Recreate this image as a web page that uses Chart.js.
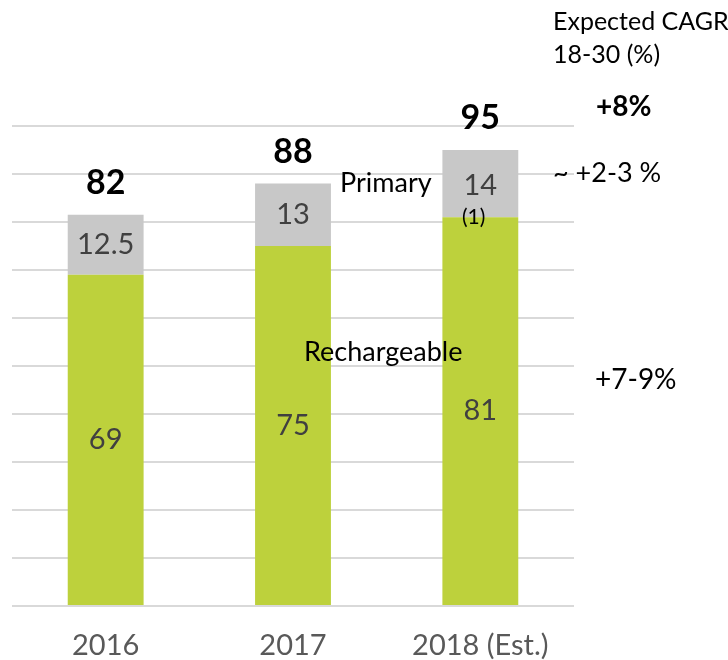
<!DOCTYPE html>
<html><head><meta charset="utf-8">
<script src="https://cdn.jsdelivr.net/npm/chart.js@4"></script>
<style>html,body{margin:0;padding:0;background:#fff}#wrap{width:728px;height:660px;position:relative}</style>
</head><body><div id="wrap"><canvas id="c" width="728" height="660"></canvas></div>
<script>
const categories = ["2016", "2017", "2018 (Est.)"];
const rechargeable = [69, 75, 81];
const primary = [12.5, 13, 14];
const totals = [82, 88, 95];
const FONT = "Lato, 'Open Sans', sans-serif";

const labelPlugin = {
  id: 'labels',
  afterDatasetsDraw(chart) {
    const ctx = chart.ctx;
    const y = chart.scales.y;
    ctx.save();
    ctx.textAlign = 'center';
    ctx.textBaseline = 'middle';
    const m0 = chart.getDatasetMeta(0), m1 = chart.getDatasetMeta(1);
    categories.forEach((c, i) => {
      const b0 = m0.data[i], b1 = m1.data[i];
      ctx.fillStyle = '#404040';
      ctx.font = '29px ' + FONT;
      ctx.fillText(String(rechargeable[i]), b0.x, (b0.y + b0.base) / 2);
      ctx.fillText(String(primary[i]), b1.x, (b1.y + b1.base) / 2 + (i === 2 ? 2 : 0));
      ctx.fillStyle = '#000';
      ctx.font = 'bold 34px ' + FONT;
      ctx.fillText(String(totals[i]), b1.x, y.getPixelForValue(rechargeable[i] + primary[i]) - 32);
    });
    ctx.fillStyle = '#000';
    ctx.textAlign = 'left';
    ctx.font = '25px ' + FONT;
    ctx.fillText('Expected CAGR', 553, 22);
    ctx.fillText('18-30 (%)', 553, 55);
    ctx.font = '27px ' + FONT;
    ctx.fillText('Primary', 340, 183);
    ctx.fillText('Rechargeable', 304, 352);
    ctx.fillText('~ +2-3 %', 553, 173);
    ctx.font = '28px ' + FONT;
    ctx.fillText('+7-9%', 595, 380);
    ctx.font = 'bold 28px ' + FONT;
    ctx.fillText('+8%', 596, 107);
    ctx.font = '21px ' + FONT;
    ctx.fillText('(1)', 462, 217);
    ctx.restore();
  }
};

new Chart(document.getElementById('c'), {
  type: 'bar',
  data: {
    labels: categories,
    datasets: [
      { label: 'Rechargeable', data: rechargeable, backgroundColor: '#BDD13C', barPercentage: 0.405, categoryPercentage: 1 },
      { label: 'Primary', data: primary, backgroundColor: '#C8C8C8', barPercentage: 0.405, categoryPercentage: 1 }
    ]
  },
  options: {
    responsive: false,
    animation: false,
    layout: { padding: { left: 12, right: 154, top: 126, bottom: 0 } },
    plugins: { legend: { display: false }, tooltip: { enabled: false } },
    scales: {
      x: {
        stacked: true,
        grid: { display: false, drawTicks: false },
        border: { display: false },
        ticks: { color: '#595959', font: { family: FONT, size: 29 }, padding: 22 },
        afterFit(scale) { scale.height = 54; }
      },
      y: {
        stacked: true,
        min: 0, max: 100,
        ticks: { display: false, stepSize: 10 },
        grid: { color: '#D9D9D9', lineWidth: 2, drawTicks: false },
        border: { display: false }
      }
    }
  },
  plugins: [labelPlugin]
});
</script></body></html>
